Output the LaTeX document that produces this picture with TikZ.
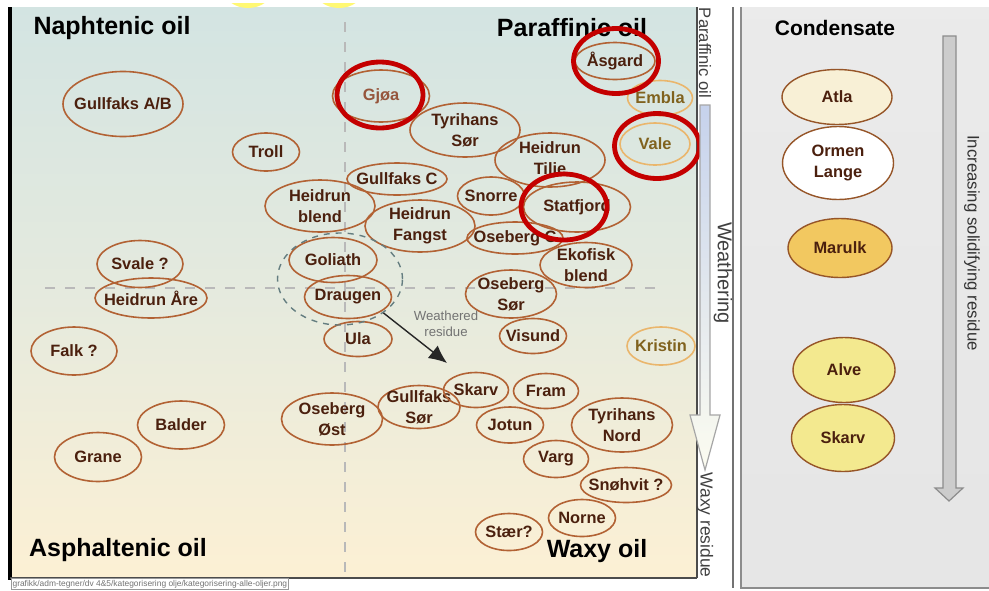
\documentclass[tikz,border=0pt]{standalone}
\usepackage{fontspec}
\setmainfont{Liberation Sans}
\usetikzlibrary{shapes.geometric,arrows.meta}
\definecolor{rim}{RGB}{178,98,52}
\definecolor{ink}{RGB}{75,32,14}
\definecolor{pale}{RGB}{234,182,108}
\definecolor{paleink}{RGB}{128,98,30}
\definecolor{hitred}{RGB}{196,0,0}
\definecolor{bgtop}{RGB}{211,228,226}
\definecolor{bgmid}{RGB}{229,234,222}
\definecolor{bgbot}{RGB}{252,240,212}
\begin{document}
\begin{tikzpicture}[x=0.5pt,y=-0.5pt,
  sz/.style 2 args={minimum width=#1*0.5pt,minimum height=#2*0.5pt},
  field/.style={ellipse,draw=rim,line width=0.8pt,inner sep=-8pt,align=center,text=ink,
    font=\bfseries\fontsize{8.2}{10.5}\selectfont},
  faint/.style={field,draw=pale,text=paleink},
  hit/.style={ellipse,draw=hitred,line width=2.4pt,inner sep=0pt},
  cond/.style={ellipse,draw={rgb,255:red,150;green,85;blue,40},line width=0.7pt,inner sep=-8pt,
    align=center,text=ink,font=\bfseries\fontsize{8.2}{10.5}\selectfont},
  title/.style={font=\bfseries\fontsize{12.5}{14}\selectfont},
  cross/.style={dash pattern=on 5pt off 5pt,gray!55,line width=0.6pt}]
\useasboundingbox (0,0) rectangle (989,590);
\fill[white] (0,0) rectangle (989,590);
\shade[top color=bgtop,bottom color=bgbot,middle color=bgmid] (10,7) rectangle (697,578);
\begin{scope}
  \clip (10,3) rectangle (697,10);
  \fill[yellow!55] (248,-10) ellipse [x radius=24,y radius=18];
  \fill[yellow!55] (339,-10) ellipse [x radius=24,y radius=18];
\end{scope}
\draw[line width=1.8pt] (10,7) -- (10,580);
\draw[line width=0.9pt,black!70] (10,578) -- (697,578);
\draw[line width=0.9pt,black!70] (697,7) -- (697,578);
\node[draw=black!40,fill=white,inner sep=0.6pt,anchor=west,text=black!55,
  font=\fontsize{4.2}{5}\selectfont] (filepath) at (11,584)
  {grafikk/adm-tegner/dv 4\&5/kategorisering olje/kategorisering-alle-oljer.png};
\draw[cross] (345,22) -- (345,572);
\draw[cross] (45,288) -- (655,288);
\node[title] (naphtenic) at (112,28) {Naphtenic oil};
\node[title] (paraffinic) at (572,28) {Paraffinic oil};
\node[title] (asphaltenic) at (118,550) {Asphaltenic oil};
\node[title] (waxy) at (597,551) {Waxy oil};
\node[field,sz={120}{65}] (gullfaksab) at (123,104) {Gullfaks A/B};
\node[field,sz={67}{38}] (troll) at (266,152) {Troll};
\node[field,sz={97}{52},text={rgb,255:red,150;green,85;blue,60}] (gjoa) at (381,96) {Gjøa};
\node[field,sz={110}{54}] (tyrihanssor) at (465,130) {Tyrihans\\Sør};
\node[field,sz={110}{54}] (heidruntilje) at (550,160) {Heidrun\\Tilje};
\node[field,sz={100}{32}] (gullfaksc) at (397,179) {Gullfaks C};
\node[field,sz={110}{52}] (heidrunblend) at (320,206) {Heidrun\\blend};
\node[field,sz={110}{52}] (heidrunfangst) at (420,226) {Heidrun\\Fangst};
\node[field,sz={67}{38}] (snorre) at (491,196) {Snorre};
\node[field,sz={107}{50}] (statfjord) at (577,207) {Statfjord};
\node[field,sz={96}{32}] (osebergc) at (515,238) {Oseberg C};
\node[field,sz={92}{45}] (ekofisk) at (586,265) {Ekofisk\\blend};
\node[field,sz={91}{48}] (osebergsor) at (511,294) {Oseberg\\Sør};
\node[field,sz={67}{35}] (visund) at (533,336) {Visund};
\node[faint,sz={68}{38}] (kristin) at (661,346) {Kristin};
\node[field,sz={80}{37}] (asgard) at (615,61) {Åsgard};
\node[faint,sz={65}{35}] (embla) at (660,98) {Embla};
\node[faint,sz={70}{42}] (vale) at (655,144) {Vale};
\node[field,sz={86}{47}] (svale) at (140,264) {Svale ?};
\node[field,sz={112}{40}] (heidrunare) at (151,298) {Heidrun Åre};
\node[field,sz={88}{45}] (goliath) at (333,260) {Goliath};
\node[field,sz={87}{43}] (draugen) at (348,297) {Draugen};
\node[field,sz={68}{35}] (ula) at (358,339) {Ula};
\node[field,sz={86}{48}] (falk) at (74,351) {Falk ?};
\node[field,sz={87}{48}] (balder) at (181,425) {Balder};
\node[field,sz={87}{49}] (grane) at (98,457) {Grane};
\node[field,sz={101}{52}] (osebergost) at (332,419) {Oseberg\\Øst};
\node[field,sz={82}{43}] (gullfakssor) at (419,407) {Gullfaks\\Sør};
\node[field,sz={65}{35}] (skarv) at (476,390) {Skarv};
\node[field,sz={65}{35}] (fram) at (546,391) {Fram};
\node[field,sz={67}{36}] (jotun) at (510,425) {Jotun};
\node[field,sz={101}{54}] (tyrihansnord) at (622,425) {Tyrihans\\Nord};
\node[field,sz={65}{37}] (varg) at (556,459) {Varg};
\node[field,sz={91}{35}] (snohvit) at (626,485) {Snøhvit ?};
\node[field,sz={67}{37}] (norne) at (582,518) {Norne};
\node[field,sz={67}{37}] (staer) at (509,532) {Stær?};
\node[hit,sz={86}{66}] (gjoahit) at (380,95) {};
\node[hit,sz={85}{65}] (asgardhit) at (616,61) {};
\node[hit,sz={85}{65}] (valehit) at (657,146) {};
\node[hit,sz={86}{66}] (statfjordhit) at (564,207) {};
\node[ellipse,draw={rgb,255:red,100;green,125;blue,128},dashed,line width=0.7pt,sz={125}{92}] (residue) at (340,279) {};
\node[text=black!55,align=center,font=\fontsize{6.6}{8}\selectfont] (wres) at (446,324) {Weathered\\residue};
\coordinate (wtip) at (447,363);
\draw[line width=0.7pt,black!85,-{Latex[length=9pt,width=8pt]}] (residue.-38) -- (wtip);
\shade[top color={rgb,255:red,198;green,210;blue,236},bottom color={rgb,255:red,252;green,252;blue,240},draw=black!35,line width=0.6pt]
  (700,105) -- (710,105) -- (710,415) -- (720,415) -- (705,470) -- (690,415) -- (700,415) -- cycle;
\node[rotate=-90,text=black!75,font=\fontsize{8.3}{9}\selectfont] (paraffinicside) at (705,53) {Paraffinic oil};
\node[rotate=-90,text=black!75,font=\fontsize{10}{11}\selectfont] (weathering) at (723,273) {Weathering};
\node[rotate=-90,text=black!75,font=\fontsize{8.7}{9}\selectfont] (waxyresidue) at (705,525) {Waxy residue};
\shade[top color=gray!16,bottom color=gray!20] (741,7) rectangle (989,588);
\draw[black!55,line width=0.8pt] (733,7) -- (733,588);
\draw[black!45,line width=0.6pt] (741,7) -- (741,588) -- (989,588);
\node[font=\bfseries\fontsize{10.5}{12}\selectfont] (condensate) at (835,28) {Condensate};
\node[cond,sz={110}{55},fill={rgb,255:red,248;green,240;blue,214}] (atla) at (837,97) {Atla};
\node[cond,sz={111}{73},fill=white] (ormenlange) at (838,163) {Ormen\\Lange};
\node[cond,sz={104}{59},fill={rgb,255:red,242;green,200;blue,96}] (marulk) at (840,248) {Marulk};
\node[cond,sz={102}{65},fill={rgb,255:red,243;green,233;blue,143}] (alve) at (844,370) {Alve};
\node[cond,sz={103}{67},fill={rgb,255:red,243;green,233;blue,143}] (skarvc) at (843,438) {Skarv};
\filldraw[fill=gray!40,draw=black!45,line width=0.6pt]
  (943,36) -- (956,36) -- (956,488) -- (963,488) -- (949,501) -- (935,488) -- (943,488) -- cycle;
\node[rotate=-90,text=black!80,font=\fontsize{8.4}{9}\selectfont] (solidifying) at (972,243) {Increasing solidifying residue};
\end{tikzpicture}
\end{document}
